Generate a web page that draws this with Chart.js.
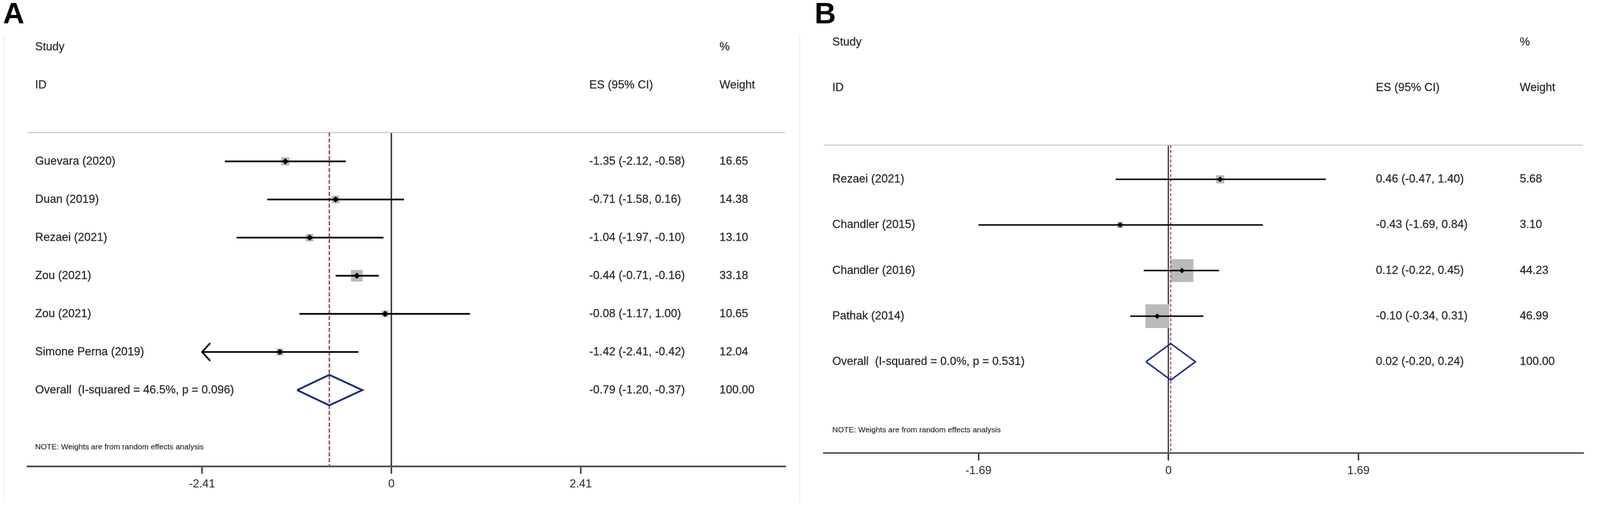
<!DOCTYPE html>
<html>
<head>
<meta charset="utf-8">
<script src="https://cdn.jsdelivr.net/npm/chart.js@4.4.1/dist/chart.umd.min.js"></script>
<style>
  html, body { margin: 0; padding: 0; background: #fff; overflow: hidden; }
  #wrap { position: relative; width: 4326px; height: 1356px; overflow: hidden; background: #fff; }
  canvas { position: absolute; top: 0; }
  #panelA { left: 0; }
  #panelB { left: 2150px; }
</style>
</head>
<body>
<div id="wrap">
  <canvas id="panelA" width="2150" height="1356"></canvas>
  <canvas id="panelB" width="2176" height="1356"></canvas>
</div>
<script>
// ---- Panel A ----
const studiesA = ["Guevara (2020)", "Duan (2019)", "Rezaei (2021)", "Zou (2021)", "Zou (2021)", "Simone Perna (2019)"];
const esA = [-1.35, -0.71, -1.04, -0.44, -0.08, -1.42];
const lowA = [-2.12, -1.58, -1.97, -0.71, -1.17, -2.41];
const highA = [-0.58, 0.16, -0.10, -0.16, 1.00, -0.42];
const weightA = [16.65, 14.38, 13.10, 33.18, 10.65, 12.04];
const overallA = [-0.79, -1.20, -0.37]; // es, low, high
const overallLabelA = "Overall  (I-squared = 46.5%, p = 0.096)";
const arrowA = [5]; // CI runs off the left end
const ticksA = [-2.41, 0, 2.41];
const tickLabelsA = ["-2.41", "0", "2.41"];

// ---- Panel B ----
const studiesB = ["Rezaei (2021)", "Chandler (2015)", "Chandler (2016)", "Pathak (2014)"];
const esB = [0.46, -0.43, 0.12, -0.10];
const lowB = [-0.47, -1.69, -0.22, -0.34];
const highB = [1.40, 0.84, 0.45, 0.31];
const weightB = [5.68, 3.10, 44.23, 46.99];
const overallB = [0.02, -0.20, 0.24];
const overallLabelB = "Overall  (I-squared = 0.0%, p = 0.531)";
const arrowB = [];
const ticksB = [-1.69, 0, 1.69];
const tickLabelsB = ["-1.69", "0", "1.69"];

const noteText = "NOTE: Weights are from random effects analysis";
const FONT = '"Liberation Sans", Arial, Helvetica, sans-serif';
const TEXT = "#262626";

// the page is laid out in 4326x1356 units; fit that to whatever the viewport is
const fit = Math.min(window.innerWidth / 4326, window.innerHeight / 1356);
document.getElementById("wrap").style.zoom = fit;

function fmt(es, lo, hi) {
  return `${es.toFixed(2)} (${lo.toFixed(2)}, ${hi.toFixed(2)})`;
}

function forest(id, d, s) {
  const n = d.studies.length;
  const pts = d.es.map((v, i) => ({ x: v, y: i }));
  const [oes, olo, ohi] = d.overall;
  const datasets = [];

  // grey weight boxes (side ~ sqrt(weight))
  datasets.push({
    data: pts, pointStyle: "rect",
    pointRadius: d.weight.map((w) => (s.box * Math.sqrt(w)) / Math.SQRT2),
    backgroundColor: "#bababa", borderWidth: 0, order: 6,
  });

  // confidence intervals
  d.studies.forEach((_, i) => {
    datasets.push({
      data: [{ x: d.low[i], y: i }, { x: d.high[i], y: i }],
      showLine: true, borderColor: "#000", borderWidth: s.ci,
      pointRadius: 0, order: 4,
    });
  });

  // point estimates
  datasets.push({
    data: pts, pointStyle: "rectRot", pointRadius: s.dot,
    backgroundColor: "#000", borderWidth: 0, order: 1,
  });

  // overall diamond
  datasets.push({
    data: [
      { x: olo, y: n }, { x: oes, y: n - 0.4 }, { x: ohi, y: n },
      { x: oes, y: n + 0.4 }, { x: olo, y: n },
    ],
    showLine: true, borderColor: "#1b2a85", borderWidth: s.diamond,
    borderJoinStyle: "miter", pointRadius: 0, order: 2,
  });

  // dashed line at the overall estimate
  datasets.push({
    data: [{ x: oes, y: s.yMin }, { x: oes, y: s.yMax }],
    showLine: true, borderColor: "#a34a5c", borderWidth: s.dashW,
    borderDash: s.dash, pointRadius: 0, order: 5,
  });

  const total = d.weight.reduce((a, b) => a + b, 0);

  const tablePlugin = {
    id: "forestTable",
    beforeDatasetsDraw(chart) {
      const { ctx, chartArea: a } = chart;
      ctx.save();
      // faint graph-region edge
      ctx.strokeStyle = "#efefef";
      ctx.lineWidth = 3;
      ctx.beginPath();
      ctx.moveTo(s.frameX, 95);
      ctx.lineTo(s.frameX, chart.height);
      ctx.stroke();
      // separator under the header
      ctx.strokeStyle = "#cccccc";
      ctx.beginPath();
      ctx.moveTo(a.left, a.top);
      ctx.lineTo(a.right, a.top);
      ctx.stroke();
      ctx.restore();
    },
    afterDraw(chart) {
      const { ctx, chartArea: a } = chart;
      const x = chart.scales.x, y = chart.scales.y;
      ctx.save();

      ctx.fillStyle = "#000";
      ctx.font = `bold 80px ${FONT}`;
      ctx.textBaseline = "alphabetic";
      ctx.fillText(d.letter, s.letterX, 63);

      ctx.fillStyle = TEXT;
      ctx.strokeStyle = TEXT;
      ctx.lineWidth = 0.4;
      ctx.textBaseline = "middle";
      ctx.font = `31px ${FONT}`;
      const cl = a.left + s.colLabel, ce = a.left + s.colES, cw = a.left + s.colW;
      const put = (t, cx, row) => {
        const py = y.getPixelForValue(row);
        ctx.fillText(t, cx, py);
        ctx.strokeText(t, cx, py);
      };

      put("Study", cl, -3);
      put("ID", cl, -2);
      put("ES (95% CI)", ce, -2);
      put("%", cw, -3);
      put("Weight", cw, -2);
      d.studies.forEach((t, i) => {
        put(t, cl, i);
        put(fmt(d.es[i], d.low[i], d.high[i]), ce, i);
        put(d.weight[i].toFixed(2), cw, i);
      });
      put(d.overallLabel, cl, n);
      put(fmt(oes, olo, ohi), ce, n);
      put(total.toFixed(2), cw, n);

      ctx.font = `21px ${FONT}`;
      ctx.lineWidth = 0.25;
      put(noteText, cl, n + 1.5);

      // open arrow heads where the interval is cut off
      ctx.strokeStyle = "#000";
      ctx.lineWidth = s.ci;
      d.arrow.forEach((i) => {
        const px = x.getPixelForValue(d.low[i]);
        const py = y.getPixelForValue(i);
        ctx.beginPath();
        ctx.moveTo(px + 22, py - 24);
        ctx.lineTo(px, py);
        ctx.lineTo(px + 22, py + 24);
        ctx.stroke();
      });
      ctx.restore();
    },
  };

  return new Chart(document.getElementById(id), {
    type: "scatter",
    data: { datasets },
    options: {
      responsive: false,
      animation: false,
      devicePixelRatio: 1,
      events: [],
      layout: { padding: { left: s.left, right: s.right, top: s.top, bottom: 0 } },
      plugins: { legend: { display: false }, tooltip: { enabled: false } },
      scales: {
        x: {
          type: "linear",
          min: s.xMin,
          max: s.xMax,
          afterBuildTicks: (sc) => { sc.ticks = d.ticks.map((v) => ({ value: v })); },
          afterFit: (sc) => { sc.height = s.axisH; },
          ticks: {
            autoSkip: false, maxRotation: 0, padding: 10, color: TEXT,
            font: { family: FONT, size: 31 },
            callback: (v, i) => d.tickLabels[i],
          },
          grid: {
            color: (c) => (c.tick && c.tick.value === 0 ? "#3a3a3a" : "rgba(0,0,0,0)"),
            lineWidth: s.zero,
            drawTicks: true, tickLength: 20, tickColor: "#3a3a3a", tickWidth: 4,
          },
          border: { display: true, color: "#4a4a4a", width: s.axis },
        },
        y: { type: "linear", display: false, reverse: true, min: s.yMin, max: s.yMax },
      },
    },
    plugins: [tablePlugin],
  });
}

forest("panelA", {
  letter: "A", studies: studiesA, es: esA, low: lowA, high: highA, weight: weightA,
  overall: overallA, overallLabel: overallLabelA, arrow: arrowA,
  ticks: ticksA, tickLabels: tickLabelsA,
}, {
  left: 74, right: 27, top: 358, axisH: 96,
  xMin: -4.633, xMax: 5.014, yMin: -0.757, yMax: 8.0,
  colLabel: 21, colES: 1519, colW: 1871,
  box: 5.5, dot: 8.5, ci: 4.5, diamond: 5, dash: [11, 5], dashW: 4,
  zero: 4, axis: 4.5, letterX: 8, frameX: 10,
});

forest("panelB", {
  letter: "B", studies: studiesB, es: esB, low: lowB, high: highB, weight: weightB,
  overall: overallB, overallLabel: overallLabelB, arrow: arrowB,
  ticks: ticksB, tickLabels: tickLabelsB,
}, {
  left: 77, right: 10, top: 392, axisH: 132,
  xMin: -3.066, xMax: 3.690, yMin: -0.75, yMax: 6.0,
  colLabel: 23, colES: 1493, colW: 1882,
  box: 9.34, dot: 7.5, ci: 4, diamond: 4, dash: [8, 5], dashW: 3,
  zero: 3.5, axis: 4, letterX: 52, frameX: 12,
});
</script>
</body>
</html>
